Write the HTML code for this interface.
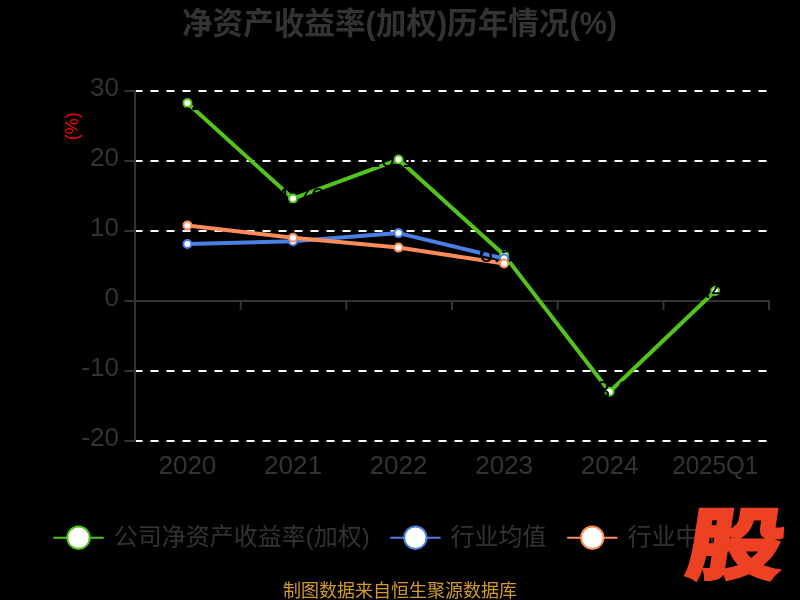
<!DOCTYPE html>
<html lang="zh-CN">
<head>
<meta charset="utf-8">
<title>净资产收益率(加权)历年情况(%)</title>
<style>
html,body{margin:0;padding:0;background:#000;}
body{width:800px;height:600px;overflow:hidden;}
svg{display:block;will-change:transform;}
text{font-family:"Liberation Sans", "Noto Sans CJK SC", sans-serif;}
</style>
</head>
<body>
<svg width="800" height="600" viewBox="0 0 800 600">
<rect x="0" y="0" width="800" height="600" fill="#000000"/>
<text x="399.5" y="33.5" text-anchor="middle" font-size="30.6" font-weight="bold" fill="#333333">净资产收益率(加权)历年情况(%)</text>
<text transform="translate(78.2,126.3) rotate(-90)" text-anchor="middle" font-size="18" fill="#ff0000">(%)</text>
<line x1="134.5" y1="91" x2="769" y2="91" stroke="#ffffff" stroke-width="2" stroke-dasharray="8 8"/>
<line x1="134.5" y1="161" x2="769" y2="161" stroke="#ffffff" stroke-width="2" stroke-dasharray="8 8"/>
<line x1="134.5" y1="231" x2="769" y2="231" stroke="#ffffff" stroke-width="2" stroke-dasharray="8 8"/>
<line x1="134.5" y1="371" x2="769" y2="371" stroke="#ffffff" stroke-width="2" stroke-dasharray="8 8"/>
<line x1="134.5" y1="441" x2="769" y2="441" stroke="#ffffff" stroke-width="2" stroke-dasharray="8 8"/>
<line x1="124.5" y1="91" x2="135" y2="91" stroke="#333333" stroke-width="2"/>
<line x1="124.5" y1="161" x2="135" y2="161" stroke="#333333" stroke-width="2"/>
<line x1="124.5" y1="231" x2="135" y2="231" stroke="#333333" stroke-width="2"/>
<line x1="124.5" y1="301" x2="135" y2="301" stroke="#333333" stroke-width="2"/>
<line x1="124.5" y1="371" x2="135" y2="371" stroke="#333333" stroke-width="2"/>
<line x1="124.5" y1="441" x2="135" y2="441" stroke="#333333" stroke-width="2"/>
<line x1="135" y1="90" x2="135" y2="442" stroke="#333333" stroke-width="2"/>
<line x1="134" y1="301" x2="770" y2="301" stroke="#333333" stroke-width="2"/>
<line x1="135.0" y1="301" x2="135.0" y2="310" stroke="#333333" stroke-width="2"/>
<line x1="240.7" y1="301" x2="240.7" y2="310" stroke="#333333" stroke-width="2"/>
<line x1="346.3" y1="301" x2="346.3" y2="310" stroke="#333333" stroke-width="2"/>
<line x1="452.0" y1="301" x2="452.0" y2="310" stroke="#333333" stroke-width="2"/>
<line x1="557.7" y1="301" x2="557.7" y2="310" stroke="#333333" stroke-width="2"/>
<line x1="663.4" y1="301" x2="663.4" y2="310" stroke="#333333" stroke-width="2"/>
<line x1="769.0" y1="301" x2="769.0" y2="310" stroke="#333333" stroke-width="2"/>
<text x="119" y="96.3" text-anchor="end" font-size="26" fill="#333333">30</text>
<text x="119" y="166.3" text-anchor="end" font-size="26" fill="#333333">20</text>
<text x="119" y="236.3" text-anchor="end" font-size="26" fill="#333333">10</text>
<text x="119" y="306.3" text-anchor="end" font-size="26" fill="#333333">0</text>
<text x="119" y="376.3" text-anchor="end" font-size="26" fill="#333333">-10</text>
<text x="119" y="446.3" text-anchor="end" font-size="26" fill="#333333">-20</text>
<text x="187.4" y="474.3" text-anchor="middle" font-size="26" fill="#333333">2020</text>
<text x="293.0" y="474.3" text-anchor="middle" font-size="26" fill="#333333">2021</text>
<text x="398.5" y="474.3" text-anchor="middle" font-size="26" fill="#333333">2022</text>
<text x="504.1" y="474.3" text-anchor="middle" font-size="26" fill="#333333">2023</text>
<text x="609.6" y="474.3" text-anchor="middle" font-size="26" fill="#333333">2024</text>
<text x="715.2" y="474.3" text-anchor="middle" font-size="26" textLength="86" lengthAdjust="spacingAndGlyphs" fill="#333333">2025Q1</text>
<polyline points="187.4,103.1 293.0,198.6 398.5,159.6 504.1,255.0 609.6,391.8 715.2,291.0" fill="none" stroke="#52c41a" stroke-width="4" stroke-linejoin="bevel"/>
<polyline points="187.4,244.0 293.0,241.3 398.5,233.1 504.1,258.6" fill="none" stroke="#4a80e6" stroke-width="4" stroke-linejoin="bevel"/>
<polyline points="187.4,225.4 293.0,237.7 398.5,247.6 504.1,263.5" fill="none" stroke="#ff8c5a" stroke-width="4" stroke-linejoin="bevel"/>
<circle cx="187.4" cy="103.1" r="4" fill="#ffffff" stroke="#52c41a" stroke-width="2"/>
<text x="187.4" y="110.1" text-anchor="middle" font-size="26" fill="#000000">28.27</text>
<circle cx="293.0" cy="198.6" r="4" fill="#ffffff" stroke="#52c41a" stroke-width="2"/>
<text x="293.0" y="205.6" text-anchor="middle" font-size="26" fill="#000000">14.70</text>
<circle cx="398.5" cy="159.6" r="4" fill="#ffffff" stroke="#52c41a" stroke-width="2"/>
<text x="398.5" y="166.6" text-anchor="middle" font-size="26" fill="#000000">20.18</text>
<circle cx="504.1" cy="255.0" r="4" fill="#ffffff" stroke="#52c41a" stroke-width="2"/>
<text x="504.1" y="262.0" text-anchor="middle" font-size="26" fill="#000000">6.57</text>
<circle cx="609.6" cy="391.8" r="4" fill="#ffffff" stroke="#52c41a" stroke-width="2"/>
<text x="609.6" y="398.8" text-anchor="middle" font-size="26" fill="#000000">-13.02</text>
<circle cx="715.2" cy="291.0" r="4" fill="#ffffff" stroke="#52c41a" stroke-width="2"/>
<text x="715.2" y="298.0" text-anchor="middle" font-size="26" fill="#000000">1.43</text>
<circle cx="187.4" cy="244.0" r="4" fill="#ffffff" stroke="#4a80e6" stroke-width="2"/>
<circle cx="293.0" cy="241.3" r="4" fill="#ffffff" stroke="#4a80e6" stroke-width="2"/>
<circle cx="398.5" cy="233.1" r="4" fill="#ffffff" stroke="#4a80e6" stroke-width="2"/>
<circle cx="504.1" cy="258.6" r="4" fill="#ffffff" stroke="#4a80e6" stroke-width="2"/>
<circle cx="187.4" cy="225.4" r="4" fill="#ffffff" stroke="#ff8c5a" stroke-width="2"/>
<circle cx="293.0" cy="237.7" r="4" fill="#ffffff" stroke="#ff8c5a" stroke-width="2"/>
<circle cx="398.5" cy="247.6" r="4" fill="#ffffff" stroke="#ff8c5a" stroke-width="2"/>
<circle cx="504.1" cy="263.5" r="4" fill="#ffffff" stroke="#ff8c5a" stroke-width="2"/>
<line x1="53.4" y1="537.7" x2="103.7" y2="537.7" stroke="#52c41a" stroke-width="2"/>
<circle cx="78.5" cy="537.7" r="11.2" fill="#ffffff" stroke="#52c41a" stroke-width="2"/>
<text x="113.7" y="544.5" font-size="24" fill="#333333">公司净资产收益率(加权)</text>
<line x1="390.3" y1="537.7" x2="440.6" y2="537.7" stroke="#4a80e6" stroke-width="2"/>
<circle cx="415.4" cy="537.7" r="11.2" fill="#ffffff" stroke="#4a80e6" stroke-width="2"/>
<text x="450.6" y="544.5" font-size="24" fill="#333333">行业均值</text>
<line x1="567.2" y1="537.7" x2="617.5" y2="537.7" stroke="#ff8c5a" stroke-width="2"/>
<circle cx="592.3" cy="537.7" r="11.2" fill="#ffffff" stroke="#ff8c5a" stroke-width="2"/>
<text x="627.5" y="544.5" font-size="24" fill="#333333">行业中位数</text>
<text x="400" y="596.5" text-anchor="middle" font-size="18" fill="#d39a2a">制图数据来自恒生聚源数据库</text>
<g transform="translate(732,572.5) skewX(-8.6) scale(1.15,0.93)"><text x="0" y="0" text-anchor="middle" font-size="84" font-weight="900" fill="#ee4023" stroke="#ee4023" stroke-width="2.5" stroke-linejoin="miter" style="font-family:'Noto Sans CJK SC','Liberation Sans',sans-serif">股</text></g>
</svg>
</body>
</html>
